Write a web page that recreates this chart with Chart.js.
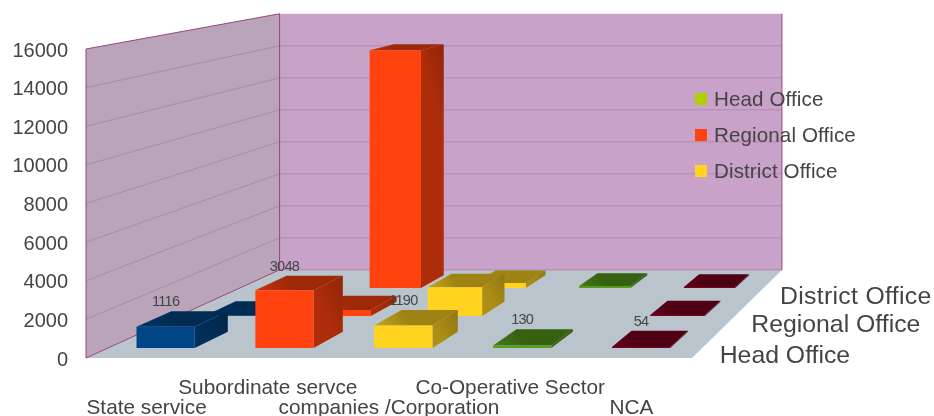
<!DOCTYPE html>
<html>
<head>
<meta charset="utf-8">
<title>Offices by sector</title>
<script src="https://cdn.jsdelivr.net/npm/chart.js@4"></script>
<style>
  html, body { margin: 0; background: #fff; }
  canvas { display: block; }
</style>
</head>
<body>
<canvas id="chart" width="934" height="416"></canvas>
<script>
/* ---- data ---- */
const categories = ['State service', 'Subordinate servce', 'companies /Corporation', 'Co-Operative Sector', 'NCA'];
const seriesNames = ['Head Office', 'Regional Office', 'District Office'];
const headOffice = [1116, 3048, 1190, 130, 54];
const regionalOffice = [20, 340, 1630, null, 60];
const districtOffice = [null, 14250, 300, 130, 60];
const yTicks = [0, 2000, 4000, 6000, 8000, 10000, 12000, 14000, 16000];

/* ---- styles ---- */
const barColors = ['#004586', '#ff420e', '#ffd320', '#579d1c', '#7e0021'];
const legendColors = ['#aecf00', '#ff420e', '#ffd320'];
const textColor = '#444444';
const FONT = '"Liberation Sans", Arial, sans-serif';

/* ---- fake 3D: the library's scales give the front plane, everything
   deeper is pushed toward one vanishing point ---- */
const VP = { x: 1218, y: -157 };
const BACK_K = 0.829;                       // size of back wall vs front plane
const rowFront = [0.096, 0.43, 0.762];      // depth where each row's bars start (0..1)
const BAR_DEPTH = 0.165;
const BAR_SHIFT = -1.8;                     // bars sit a touch left of the category centre

const persp = (1 / BACK_K) - 1;
const depthK = z => 1 / (1 + persp * z);
function project(x, y, z) {
  const k = depthK(z);
  return { x: VP.x + (x - VP.x) * k, y: VP.y + (y - VP.y) * k };
}
function shade(hex, f) {
  const n = parseInt(hex.slice(1), 16);
  const c = s => Math.round(((n >> s) & 255) * f);
  return `rgb(${c(16)},${c(8)},${c(0)})`;
}
function poly(ctx, pts, fill, stroke) {
  ctx.beginPath();
  pts.forEach((p, i) => i ? ctx.lineTo(p.x, p.y) : ctx.moveTo(p.x, p.y));
  ctx.closePath();
  if (fill) { ctx.fillStyle = fill; ctx.fill(); }
  if (stroke) { ctx.strokeStyle = stroke; ctx.lineWidth = 1; ctx.stroke(); }
}
function line(ctx, a, b, color) {
  ctx.beginPath();
  ctx.moveTo(a.x, a.y);
  ctx.lineTo(b.x, b.y);
  ctx.strokeStyle = color;
  ctx.lineWidth = 1;
  ctx.stroke();
}
function gradient(ctx, a, b, color, fa, fb) {
  const g = ctx.createLinearGradient(a.x, a.y, b.x, b.y);
  g.addColorStop(0, shade(color, fa));
  g.addColorStop(1, shade(color, fb));
  return g;
}

/* ---- walls, floor, grid, legend, depth axis ---- */
function drawRoom(chart) {
  const { ctx, scales: { x, y } } = chart;
  const L = x.left, R = x.right, B = y.getPixelForValue(0), T = y.getPixelForValue(16000);

  poly(ctx, [project(L, T, 0), project(L, T, 1), project(L, B, 1), project(L, B, 0)], '#baa4ba');
  poly(ctx, [project(L, T, 1), project(R, T, 1), project(R, B, 1), project(L, B, 1)], '#c8a2c8');
  poly(ctx, [project(L, B, 0), project(R, B, 0), project(R, B, 1), project(L, B, 1)], '#bac4cd');

  yTicks.slice(1, -1).forEach(v => {
    const py = y.getPixelForValue(v);
    line(ctx, project(L, py, 0), project(L, py, 1), '#a88aa8');
    line(ctx, project(L, py, 1), project(R, py, 1), '#b388b2');
  });
  line(ctx, project(L, B, 1), project(R, B, 1), '#b388b2');

  const edge = '#98457c';
  line(ctx, project(L, T, 0), project(L, B, 0), edge);
  line(ctx, project(L, T, 0), project(L, T, 1), edge);
  line(ctx, project(L, B, 0), project(L, B, 1), edge);
  line(ctx, project(L, T, 1), project(L, B, 1), edge);
  line(ctx, project(R, T, 1), project(R, B, 1), edge);

  // legend, sits on top of the back wall
  ctx.textAlign = 'left';
  ctx.textBaseline = 'middle';
  ctx.font = `20.6px ${FONT}`;
  ctx.letterSpacing = '0.1px';
  seriesNames.forEach((name, i) => {
    const ly = 99 + i * 36;
    ctx.fillStyle = legendColors[i];
    ctx.fillRect(695, ly - 6, 12, 12);
    ctx.fillStyle = textColor;
    ctx.fillText(name, 714, ly + 1);
  });

  // depth axis names along the right floor edge
  ctx.font = `24.8px ${FONT}`;
  seriesNames.forEach((name, i) => {
    const p = project(R, B, rowFront[i] + BAR_DEPTH / 2);
    ctx.fillStyle = textColor;
    ctx.letterSpacing = i === 2 ? '0.3px' : '0px';
    ctx.fillText(name, p.x + (i === 2 ? 10 : 9), p.y + 16);
  });
  ctx.letterSpacing = '0px';
}

function drawBox(ctx, bar, z, color) {
  const cx = bar.x + BAR_SHIFT;
  const l = cx - bar.width / 2, r = cx + bar.width / 2;
  const zb = z + BAR_DEPTH;
  const fbl = project(l, bar.base, z), fbr = project(r, bar.base, z);
  const ftl = project(l, bar.y, z), ftr = project(r, bar.y, z);
  const bbr = project(r, bar.base, zb), btl = project(l, bar.y, zb), btr = project(r, bar.y, zb);

  poly(ctx, [ftl, ftr, btr, btl], gradient(ctx, ftl, btl, color, 0.78, 0.62));
  poly(ctx, [ftr, fbr, bbr, btr], gradient(ctx, ftr, btr, color, 0.68, 0.56));
  poly(ctx, [ftl, ftr, fbr, fbl], color);
}

/* draws the bars from the elements Chart.js laid out, back row first */
const room3d = {
  id: 'room3d',
  beforeDraw: drawRoom,
  beforeDatasetsDraw(chart) {
    const { ctx } = chart;
    for (let d = chart.data.datasets.length - 1; d >= 0; d--) {
      const meta = chart.getDatasetMeta(d);
      meta.data.forEach((bar, i) => {
        if (chart.data.datasets[d].data[i] == null) return;
        drawBox(ctx, bar, rowFront[d], barColors[i]);
      });
    }
    // only the front row carries value labels
    ctx.font = `14.5px ${FONT}`;
    ctx.letterSpacing = '-0.7px';
    ctx.textAlign = 'center';
    ctx.textBaseline = 'alphabetic';
    ctx.fillStyle = textColor;
    chart.getDatasetMeta(0).data.forEach((bar, i) => {
      const f = project(bar.x + BAR_SHIFT, bar.y, rowFront[0]);
      const b = project(bar.x, bar.y, rowFront[0] + BAR_DEPTH);
      ctx.fillText(headOffice[i], f.x, b.y - 5);
    });
    ctx.letterSpacing = '0px';
    return false;
  }
};

const series = [headOffice, regionalOffice, districtOffice];

new Chart(document.getElementById('chart'), {
  type: 'bar',
  data: {
    labels: categories,
    datasets: series.map((data, i) => ({
      label: seriesNames[i],
      data,
      backgroundColor: barColors,
      grouped: false,
      categoryPercentage: 1,
      barPercentage: 0.49
    }))
  },
  options: {
    responsive: false,
    animation: false,
    layout: { padding: { top: 49, right: 242, left: 0, bottom: 0 } },
    plugins: { legend: { display: false }, tooltip: { enabled: false } },
    scales: {
      x: {
        grid: { display: false },
        border: { display: false },
        afterFit: s => { s.height = 58; },
        ticks: {
          autoSkip: false, maxRotation: 0, minRotation: 0, padding: 12,
          color: textColor,
          font: { family: FONT, size: 20.8, lineHeight: 0.96 },
          // staggered two-row labels as in the original
          callback(v, i) { return i % 2 ? [categories[i], ''] : ['', categories[i]]; }
        }
      },
      y: {
        min: 0, max: 16000,
        grid: { display: false },
        border: { display: false },
        afterFit: s => { s.width = 86; },
        afterBuildTicks: s => { s.ticks = yTicks.map(value => ({ value })); },
        ticks: {
          padding: 10,
          labelOffset: 2,
          color: textColor,
          font: { family: FONT, size: 20 },
          callback: v => String(v)
        }
      }
    }
  },
  plugins: [room3d]
});
</script>
</body>
</html>
